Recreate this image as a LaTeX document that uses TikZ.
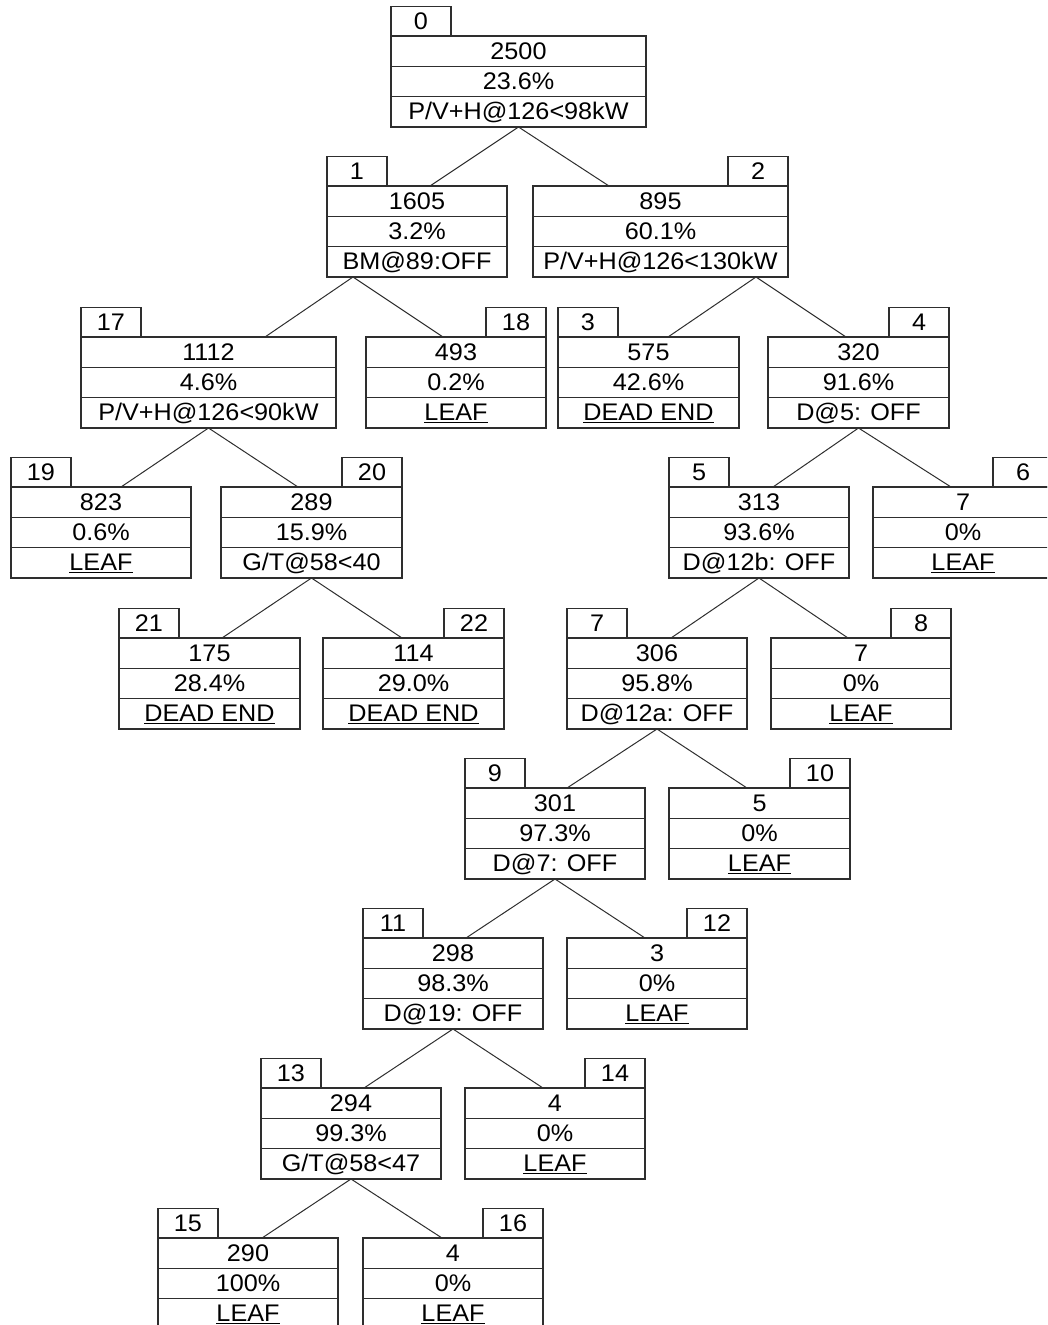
\documentclass[tikz,border=0pt]{standalone}
\usepackage{fontspec}
\newfontfamily\boxfont{Liberation Sans}[FakeStretch=1.05]
\usetikzlibrary{calc}
\definecolor{linecol}{HTML}{2E2E2E}
\tikzset{
  mainbox/.style={rectangle, draw=linecol, line width=1.4pt, inner sep=0pt, outer sep=0pt, minimum height=91},
  tabbox/.style={rectangle, draw=linecol, line width=1.4pt, inner sep=0pt, outer sep=0pt, minimum width=60, minimum height=29.5, text=black, font=\boxfont\fontsize{24}{28}\selectfont},
  rowline/.style={draw=linecol, line width=1.4pt},
  txt/.style={inner sep=0pt, text=black, anchor=base, font=\boxfont\fontsize{24}{28}\selectfont},
  conn/.style={draw=linecol, line width=1pt}
}
% #1 name, #2 x-left, #3 x-right, #4 top y, #5 tab side, #6 number, #7 count, #8 percent, #9 rule
\newcommand\mybox[9]{%
  \node[mainbox, minimum width={(#3)-(#2)}, anchor=north west] (b#1) at (#2,#4) {};
  \draw[rowline] ($(b#1.north west)+(0,30.3)$) -- ($(b#1.north east)+(0,30.3)$);
  \draw[rowline] ($(b#1.north west)+(0,60.6)$) -- ($(b#1.north east)+(0,60.6)$);
  \node[txt] (c#1) at ($(b#1.north)+(0,23.3)$) {#7};
  \node[txt] (p#1) at ($(b#1.north)+(0,53.6)$) {#8};
  \node[txt] (r#1) at ($(b#1.north)+(0,83.9)$) {#9};
  \node[tabbox, anchor=south #5] (t#1) at (b#1.north #5) {#6};
}
\newcommand\lf{\underline{LEAF}}
\newcommand\de{\underline{DEAD END}}
\begin{document}
\begin{tikzpicture}[x=1pt,y=-1pt]
\path[use as bounding box] (0,0) rectangle (1047,1325);
\clip (0,0) rectangle (1047,1325);

% level 0
\mybox{0}{391}{646}{36}{west}{0}{2500}{23.6\%}{P/V+H@126<98kW}
% level 1
\mybox{1}{327}{507}{186}{west}{1}{1605}{3.2\%}{BM@89:OFF}
\mybox{2}{533}{788}{186}{east}{2}{895}{60.1\%}{P/V+H@126<130kW}
% level 2
\mybox{17}{81}{336}{337}{west}{17}{1112}{4.6\%}{P/V+H@126<90kW}
\mybox{18}{366}{546}{337}{east}{18}{493}{0.2\%}{\lf}
\mybox{3}{558}{739}{337}{west}{3}{575}{42.6\%}{\de}
\mybox{4}{768}{949}{337}{east}{4}{320}{91.6\%}{D@5: OFF}
% level 3
\mybox{19}{11}{191}{487}{west}{19}{823}{0.6\%}{\lf}
\mybox{20}{221}{402}{487}{east}{20}{289}{15.9\%}{G/T@58<40}
\mybox{5}{669}{849}{487}{west}{5}{313}{93.6\%}{D@12b: OFF}
\mybox{6}{873}{1053}{487}{east}{6}{7}{0\%}{\lf}
% level 4
\mybox{21}{119}{300}{638}{west}{21}{175}{28.4\%}{\de}
\mybox{22}{323}{504}{638}{east}{22}{114}{29.0\%}{\de}
\mybox{7}{567}{747}{638}{west}{7}{306}{95.8\%}{D@12a: OFF}
\mybox{8}{771}{951}{638}{east}{8}{7}{0\%}{\lf}
% level 5
\mybox{9}{465}{645}{788}{west}{9}{301}{97.3\%}{D@7: OFF}
\mybox{10}{669}{850}{788}{east}{10}{5}{0\%}{\lf}
% level 6
\mybox{11}{363}{543}{938}{west}{11}{298}{98.3\%}{D@19: OFF}
\mybox{12}{567}{747}{938}{east}{12}{3}{0\%}{\lf}
% level 7
\mybox{13}{261}{441}{1088}{west}{13}{294}{99.3\%}{G/T@58<47}
\mybox{14}{465}{645}{1088}{east}{14}{4}{0\%}{\lf}
% level 8
\mybox{15}{158}{338}{1238}{west}{15}{290}{100\%}{\lf}
\mybox{16}{363}{543}{1238}{east}{16}{4}{0\%}{\lf}

% connector end points
\coordinate (o1) at (353,277);
\coordinate (o2) at (756,277);
\coordinate (i1) at (430,186);   \coordinate (i2) at (609,186);
\coordinate (i17) at (265,337);  \coordinate (i18) at (443,337);
\coordinate (i3) at (668,337);   \coordinate (i4) at (846,337);
\coordinate (i19) at (121,487);  \coordinate (i20) at (298,487);
\coordinate (i5) at (773,487);   \coordinate (i6) at (951,487);
\coordinate (i21) at (222,638);  \coordinate (i22) at (402,638);
\coordinate (i7) at (671,638);   \coordinate (i8) at (848,638);
\coordinate (i9) at (567,788);   \coordinate (i10) at (747,788);
\coordinate (i11) at (466,938);  \coordinate (i12) at (645,938);
\coordinate (i13) at (364,1088); \coordinate (i14) at (543,1088);
\coordinate (i15) at (262,1238); \coordinate (i16) at (442,1238);

\draw[conn] (b0.south) -- (i1);  \draw[conn] (b0.south) -- (i2);
\draw[conn] (o1) -- (i17);       \draw[conn] (o1) -- (i18);
\draw[conn] (o2) -- (i3);        \draw[conn] (o2) -- (i4);
\draw[conn] (b17.south) -- (i19); \draw[conn] (b17.south) -- (i20);
\draw[conn] (b4.south) -- (i5);  \draw[conn] (b4.south) -- (i6);
\draw[conn] (b20.south) -- (i21); \draw[conn] (b20.south) -- (i22);
\draw[conn] (b5.south) -- (i7);  \draw[conn] (b5.south) -- (i8);
\draw[conn] (b7.south) -- (i9);  \draw[conn] (b7.south) -- (i10);
\draw[conn] (b9.south) -- (i11); \draw[conn] (b9.south) -- (i12);
\draw[conn] (b11.south) -- (i13); \draw[conn] (b11.south) -- (i14);
\draw[conn] (b13.south) -- (i15); \draw[conn] (b13.south) -- (i16);
\end{tikzpicture}
\end{document}
